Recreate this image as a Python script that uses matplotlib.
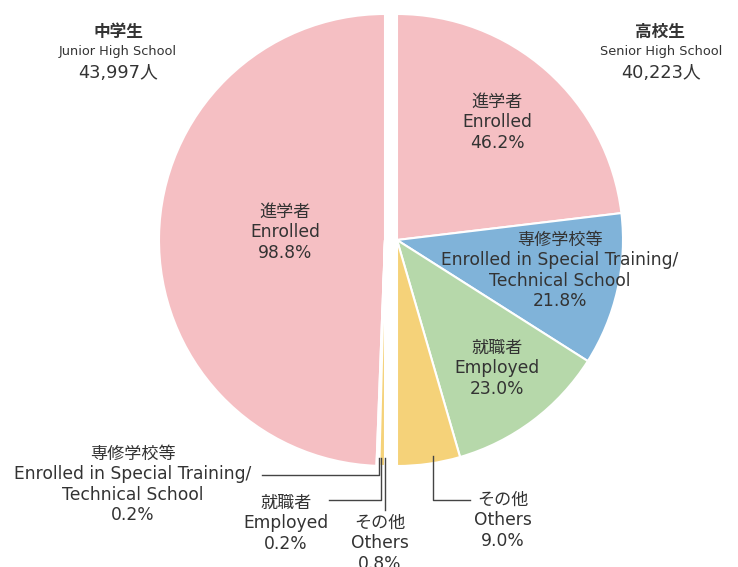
import matplotlib
matplotlib.use('Agg')
import matplotlib.pyplot as plt
import numpy as np

plt.rcParams['font.family'] = ['DejaVu Sans', 'Noto Sans CJK JP']

# shares (%) in order: enrolled, special training, employed, others
categories_ja = ['進学者', '専修学校等', '就職者', 'その他']
categories_en = ['Enrolled', 'Enrolled in Special Training/\nTechnical School',
                 'Employed', 'Others']
junior = [98.8, 0.2, 0.2, 0.8]
senior = [46.2, 21.8, 23.0, 9.0]
junior_total = '43,997人'
senior_total = '40,223人'
colors = ['#F5BFC3', '#80B3D9', '#B6D8AA', '#F5D279']

W, H = 738, 567
TXT = '#333333'


def py(y):
    # pixel row (from top) -> data y (from bottom)
    return H - y


fig = plt.figure(figsize=(W / 100, H / 100), dpi=100)
ax = fig.add_axes([0, 0, 1, 1])

R = 226
wedge_kw = dict(edgecolor='white', linewidth=1.5)
# left half: junior high, counter-clockwise from top
ax.pie(np.array(junior) / 200, normalize=False, startangle=90, counterclock=True,
       colors=colors, radius=R, center=(385, py(240)), wedgeprops=wedge_kw,
       frame=True)
# right half: senior high, clockwise from top
ax.pie(np.array(senior) / 200, normalize=False, startangle=90, counterclock=False,
       colors=colors, radius=R, center=(397, py(240)), wedgeprops=wedge_kw,
       frame=True)
ax.set_xlim(0, W)
ax.set_ylim(0, H)
ax.set_aspect('auto')
ax.axis('off')

fs = 12.3


def label(x, y, ja, en, pct, ha='center'):
    lines = [ja] + en.split('\n') + ['%.1f%%' % pct]
    for i, s in enumerate(lines):
        ax.text(x, py(y + 20.3 * i), s, ha=ha, va='center', fontsize=fs,
                color=TXT)


# headers
ax.text(118, py(32), '中学生', ha='center', va='center', fontsize=12,
        fontweight='bold', color=TXT)
ax.text(118, py(51), 'Junior High School', ha='center', va='center',
        fontsize=9.3, color=TXT)
ax.text(118, py(73), junior_total, ha='center', va='center', fontsize=12.8,
        color=TXT)
ax.text(660, py(32), '高校生', ha='center', va='center', fontsize=12,
        fontweight='bold', color=TXT)
ax.text(661, py(51), 'Senior High School', ha='center', va='center',
        fontsize=9.3, color=TXT)
ax.text(661, py(73), senior_total, ha='center', va='center', fontsize=12.8,
        color=TXT)

# inside labels
label(285, 212, categories_ja[0], categories_en[0], junior[0])
label(497, 102, categories_ja[0], categories_en[0], senior[0])
label(560, 240, categories_ja[1], categories_en[1], senior[1])
label(497, 348, categories_ja[2], categories_en[2], senior[2])

# outside labels for the small slices
label(133, 454, categories_ja[1], categories_en[1], junior[1])
label(286, 503, categories_ja[2], categories_en[2], junior[2])
label(380, 523, categories_ja[3], categories_en[3], junior[3])
label(503, 500, categories_ja[3], categories_en[3], senior[3])

# leader lines
lk = dict(color='#444444', linewidth=1.0)
ax.plot([262, 379, 379], [py(475), py(475), py(458)], **lk)
ax.plot([329, 381, 381], [py(500), py(500), py(458)], **lk)
ax.plot([385, 385], [py(510), py(458)], **lk)
ax.plot([470, 433, 433], [py(500), py(500), py(456)], **lk)

fig.savefig('out.png', dpi=100)
